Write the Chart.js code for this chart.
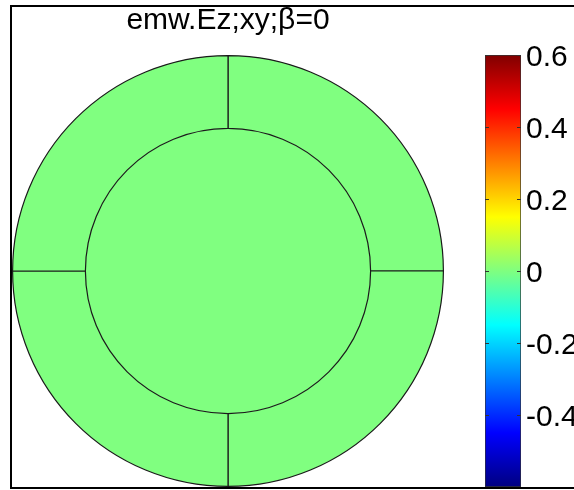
<!DOCTYPE html>
<html><head><meta charset="utf-8">
<script src="https://cdn.jsdelivr.net/npm/chart.js@4.4.1/dist/chart.umd.min.js"></script>
<style>
html,body{margin:0;padding:0;width:574px;height:490px;overflow:hidden;background:#fff;}
#frame{position:absolute;left:10px;top:5px;width:640px;height:480px;border:2px solid #000;}
#c1{position:absolute;left:0;top:0;}
#c2{position:absolute;left:470px;top:0;}
</style></head><body>
<div id="frame"></div>
<canvas id="c1" width="460" height="490"></canvas>
<canvas id="c2" width="104" height="510"></canvas>
<script>
// ---- data ----
const titleText = 'emw.Ez;xy;β=0';
const outerRingSectors = [1, 1, 1, 1];          // four equal quarter domains of the outer ring
const outerRingEz = [0, 0, 0, 0];               // Ez value in each quarter
const innerDiscEz = [0];                        // Ez value in inner disc
const colorRange = [-0.6, 0.6];                 // colour bar limits
const colorbarTicks = [0.6, 0.4, 0.2, 0, -0.2, -0.4];

// ---- jet colormap ----
function clamp(x){ return Math.max(0, Math.min(1, x)); }
function jetRGB(t){
  return [clamp(1.5 - Math.abs(4*t - 3)), clamp(1.5 - Math.abs(4*t - 2)), clamp(1.5 - Math.abs(4*t - 1))];
}
function rgbStr(c){ return 'rgb(' + c.map(x => Math.round(x*255)).join(',') + ')'; }
function jet(v){
  const t = (v - colorRange[0]) / (colorRange[1] - colorRange[0]);
  return rgbStr(jetRGB(t));
}

const FONT = '"Liberation Sans", Arial, sans-serif';

// ---- field plot (geometry as nested doughnut) ----
new Chart(document.getElementById('c1'), {
  type: 'doughnut',
  data: {
    labels: ['Q1', 'Q2', 'Q3', 'Q4'],
    datasets: [
      { data: outerRingSectors, backgroundColor: outerRingEz.map(jet),
        borderColor: '#1a1a1a', borderWidth: 1.2, weight: 73 },
      { data: innerDiscEz.map(() => 1), backgroundColor: innerDiscEz.map(jet),
        borderWidth: 0, weight: 143 }
    ]
  },
  options: {
    responsive: false, animation: false, events: [],
    cutout: 0, rotation: 0,
    layout: { padding: { left: 12, top: 0, right: 16, bottom: 3 } },
    plugins: {
      legend: { display: false }, tooltip: { enabled: false },
      title: { display: true, text: titleText, color: '#000',
        font: { family: FONT, size: 30, weight: 'normal', lineHeight: 1.2 },
        padding: { top: 3, bottom: 16 } }
    }
  }
});

// ---- colour bar ----
const innerTicks = {
  id: 'innerTicks',
  afterDatasetsDraw(chart){
    const y = chart.scales.y, a = chart.chartArea, ctx = chart.ctx;
    ctx.save();
    ctx.strokeStyle = '#333'; ctx.lineWidth = 1;
    y.ticks.forEach(t => {
      const py = Math.round(y.getPixelForValue(t.value)) + 0.5;
      ctx.beginPath();
      ctx.moveTo(a.left, py); ctx.lineTo(a.left + 4, py);
      ctx.moveTo(a.right - 4, py); ctx.lineTo(a.right, py);
      ctx.stroke();
    });
    ctx.restore();
  }
};

function barGradient(ctx){
  const chart = ctx.chart;
  const y = chart.scales.y;
  if (!chart.chartArea || !y) return jet(0);
  const top = y.getPixelForValue(colorRange[1]);
  const bot = y.getPixelForValue(colorRange[0]);
  if (!isFinite(top) || !isFinite(bot)) return jet(0);
  const g = chart.ctx.createLinearGradient(0, bot, 0, top);
  [0, 0.125, 0.375, 0.625, 0.875, 1].forEach(t => g.addColorStop(t, rgbStr(jetRGB(t))));
  return g;
}

new Chart(document.getElementById('c2'), {
  type: 'bar',
  data: {
    labels: ['Ez'],
    datasets: [{ data: [colorRange], backgroundColor: barGradient,
      borderColor: '#333', borderWidth: 1, borderSkipped: false,
      barPercentage: 1, categoryPercentage: 1 }]
  },
  options: {
    responsive: false, animation: false, events: [],
    layout: { padding: { left: 15, top: 55, right: 0, bottom: 22 } },
    scales: {
      x: { display: false },
      y: {
        position: 'right', min: colorRange[0], max: colorRange[1],
        afterBuildTicks: s => { s.ticks = colorbarTicks.map(v => ({ value: v })); },
        afterFit: s => { s.width = 53; },
        grid: { display: false, drawTicks: false },
        border: { display: false },
        ticks: { padding: 5, labelOffset: 3, color: '#000', font: { family: FONT, size: 30 },
          callback: v => String(Math.round(v * 10) / 10) }
      }
    },
    plugins: { legend: { display: false }, tooltip: { enabled: false } }
  },
  plugins: [innerTicks]
});
</script>
</body></html>
